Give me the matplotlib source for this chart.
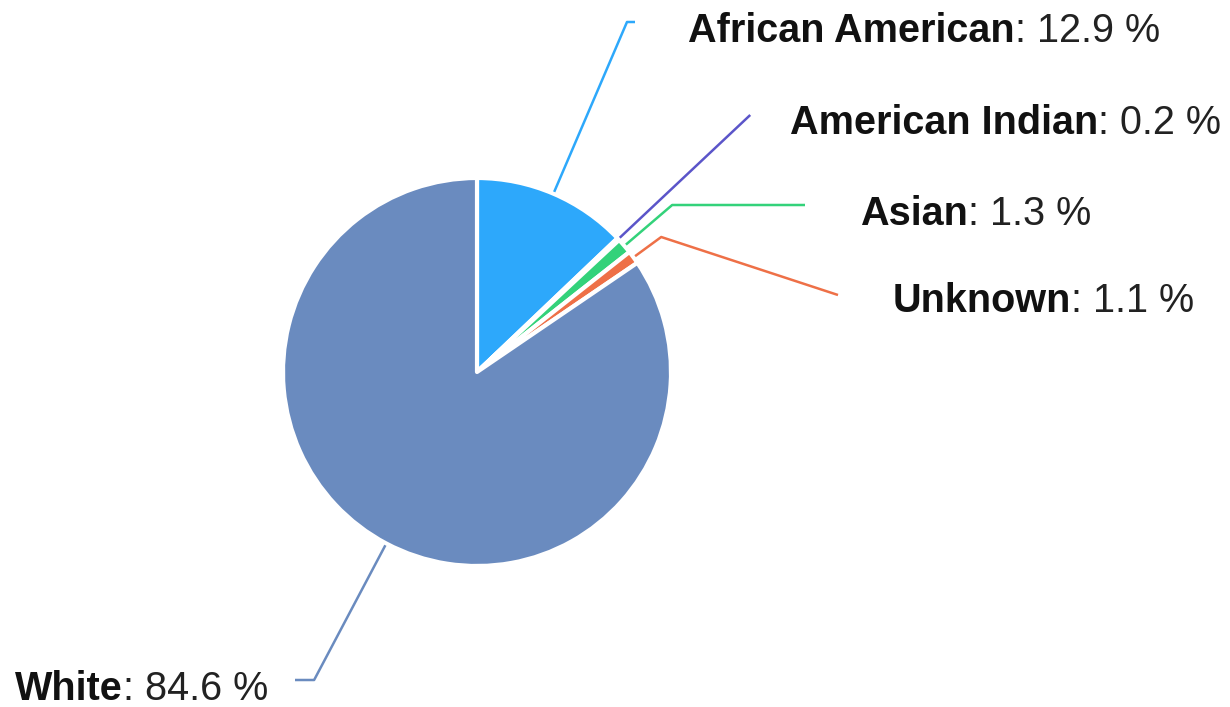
import math

import matplotlib

matplotlib.use("Agg")

import matplotlib.pyplot as plt

plt.rcParams["font.family"] = ["Liberation Sans", "DejaVu Sans"]

# race breakdown, clockwise from 12 o'clock
races = ["African American", "American Indian", "Asian", "Unknown", "White"]
shares = [12.9, 0.2, 1.3, 1.1, 84.6]
slice_colors = ["#2da8fb", "#5b55c9", "#33d27a", "#ee7047", "#6a8bbf"]

W, H = 1230, 707
CENTER = (477, H - 372)
RADIUS = 194
FONT_SIZE = 28.5

# connector / label layout in pixel units (y measured from the top)
elbow_y = [22, 115, 205, 237, 680]
tail_end = [(635, 22), None, (805, 205), (838, 295), (295, 680)]
label_pos = [(688, 31), (790, 123), (860, 214), (893, 301), (268, 689)]
label_side = ["left", "left", "left", "left", "right"]


def flip(y):
    return H - y


fig = plt.figure(figsize=(W / 100, H / 100), dpi=100)
ax = fig.add_axes([0, 0, 1, 1])

wedges, _ = ax.pie(
    shares,
    colors=slice_colors,
    startangle=90,
    counterclock=False,
    center=CENTER,
    radius=RADIUS,
    wedgeprops=dict(edgecolor="white", linewidth=3.0, joinstyle="round"),
)
ax.set_xlim(0, W)
ax.set_ylim(0, H)
ax.set_aspect("equal")
ax.axis("off")

cx, cy = CENTER
for wedge, color, ey, tail in zip(wedges, slice_colors, elbow_y, tail_end):
    mid = math.radians((wedge.theta1 + wedge.theta2) / 2)
    x0 = cx + (RADIUS + 2) * math.cos(mid)
    y0 = cy + (RADIUS + 2) * math.sin(mid)
    r_elbow = (flip(ey) - cy) / math.sin(mid)
    xe = cx + r_elbow * math.cos(mid)
    ye = flip(ey)
    xs, ys = [x0, xe], [y0, ye]
    if tail is not None:
        xs.append(tail[0])
        ys.append(flip(tail[1]))
    ax.plot(xs, ys, color=color, linewidth=1.8, solid_capstyle="butt")

renderer = fig.canvas.get_renderer()
for name, share, (lx, ly), side in zip(races, shares, label_pos, label_side):
    value_text = f": {share:.1f} %"
    if side == "left":
        t = ax.text(lx, flip(ly), name, fontsize=FONT_SIZE, fontweight="bold",
                    ha="left", va="center", color="#111111")
        x_next = t.get_window_extent(renderer).x1
        ax.text(x_next, flip(ly), value_text, fontsize=FONT_SIZE,
                ha="left", va="center", color="#222222")
    else:
        t = ax.text(lx, flip(ly), value_text, fontsize=FONT_SIZE,
                    ha="right", va="center", color="#222222")
        x_prev = t.get_window_extent(renderer).x0
        ax.text(x_prev, flip(ly), name, fontsize=FONT_SIZE, fontweight="bold",
                ha="right", va="center", color="#111111")

fig.savefig("out.png", dpi=100, facecolor="white")
